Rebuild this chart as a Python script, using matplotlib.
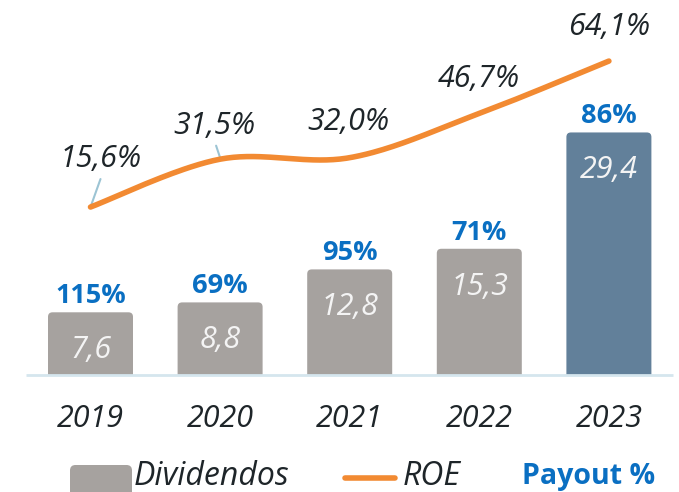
import numpy as np
import matplotlib
matplotlib.use("Agg")
from matplotlib import pyplot as plt
from matplotlib.patches import FancyBboxPatch
from matplotlib.lines import Line2D

# Data
years = ["2019", "2020", "2021", "2022", "2023"]
dividendos = [7.6, 8.8, 12.8, 15.3, 29.4]
roe = [15.6, 31.5, 32.0, 46.7, 64.1]
payout = ["115%", "69%", "95%", "71%", "86%"]

GRAY = "#a6a29f"
STEEL = "#62809a"
ORANGE = "#f28a32"
BLUE = "#0a6fc2"
DARK = "#1e2529"
LEADER = "#9cc4d4"
BASE = "#d5e6ee"

ITAL = dict(family=["Open Sans", "DejaVu Sans"], style="italic", color=DARK)
BOLD = dict(family=["Open Sans", "DejaVu Sans"], weight="bold", color=BLUE)

W, H = 679, 492
fig = plt.figure(figsize=(W / 100, H / 100), dpi=100)

# Main axes: baseline 117 px above the bottom edge
ax = fig.add_axes([0, 117 / H, 1, 375 / H])
ax.set_xlim(-90.5 / 129.6, (W - 90.5) / 129.6)
ax.set_ylim(0, 375 / 8.25)
ax.axis("off")

x = np.arange(len(years))
bw = 85 / 129.6
aspect = (1 / 8.25) / (1 / 129.6)

# Bars with slightly rounded tops
for i, v in enumerate(dividendos):
    col = STEEL if i == len(years) - 1 else GRAY
    p = FancyBboxPatch((x[i] - bw / 2, -2), bw, v + 2,
                       boxstyle="round,pad=0,rounding_size=0.035",
                       mutation_aspect=aspect, fc=col, ec="none", zorder=2)
    ax.add_patch(p)
    ax.annotate(f"{v:.1f}".replace(".", ","), xy=(x[i], v),
                xytext=(0, -46), textcoords="offset pixels",
                ha="center", va="baseline", fontsize=22,
                **{**ITAL, "color": "#f4f4f4"}, zorder=4)
    ax.annotate(payout[i], xy=(x[i], v), xytext=(0, 9),
                textcoords="offset pixels", ha="center", va="baseline",
                fontsize=19.5, **BOLD)
    ax.annotate(years[i], xy=(x[i], 0), xytext=(0, -52),
                textcoords="offset pixels", ha="center", va="baseline",
                fontsize=22, annotation_clip=False, **ITAL)

# Baseline
ax.plot([(26 - 90.5) / 129.6, (673 - 90.5) / 129.6], [0, 0], color=BASE,
        lw=2, zorder=3, clip_on=False, solid_capstyle="butt")

# ROE on a secondary scale, smoothed line
ax2 = ax.twinx()
ax2.set_ylim(-121 / 3.01, 254 / 3.01)
ax2.axis("off")

pts = np.column_stack([x, roe]).astype(float)
ext = np.vstack([pts[0], pts, pts[-1]])
curve = []
for k in range(1, len(ext) - 2):
    p0, p1, p2, p3 = ext[k - 1], ext[k], ext[k + 1], ext[k + 2]
    for t in np.linspace(0, 1, 40):
        curve.append(0.5 * ((2 * p1) + (-p0 + p2) * t
                            + (2 * p0 - 5 * p1 + 4 * p2 - p3) * t ** 2
                            + (-p0 + 3 * p1 - 3 * p2 + p3) * t ** 3))
curve = np.array(curve)
ax2.plot(curve[:, 0], curve[:, 1], color=ORANGE, lw=4,
         solid_capstyle="round", zorder=5)

roe_off = [(10.5, 40), (-6, 25), (-1, 28), (0, 26), (0, 26)]
for i, r in enumerate(roe):
    label = f"{r:.1f}%".replace(".", ",")
    ax2.annotate(label, xy=(x[i], r), xytext=roe_off[i],
                 textcoords="offset pixels", ha="center", va="baseline",
                 fontsize=22, **ITAL, annotation_clip=False)

# Leader lines for the two lower labels
ax2.annotate("", xy=(x[0], roe[0]), xytext=(10, 28), textcoords="offset pixels",
             arrowprops=dict(arrowstyle="-", color=LEADER, lw=1.5,
                             shrinkA=0, shrinkB=0))
ax2.annotate("", xy=(x[1], roe[1] + 0.5), xytext=(-4, 12),
             textcoords="offset pixels",
             arrowprops=dict(arrowstyle="-", color=LEADER, lw=1.5,
                             shrinkA=0, shrinkB=0))

# Legend drawn in pixel positions along the bottom
def fx(px):
    return px / W


def fy(py):
    return 1 - py / H


box = FancyBboxPatch((fx(70), fy(500)), fx(132) - fx(70), fy(465) - fy(500),
                     boxstyle="round,pad=0,rounding_size=0.008",
                     mutation_aspect=W / H, transform=fig.transFigure,
                     fc=GRAY, ec="none")
fig.patches.append(box)
fig.text(fx(134), fy(485), "Dividendos", fontsize=23, va="baseline", **ITAL)
fig.lines.append(Line2D([fx(345), fx(395)], [fy(478), fy(478)],
                        transform=fig.transFigure, color=ORANGE, lw=4,
                        solid_capstyle="round"))
fig.text(fx(403), fy(485), "ROE", fontsize=23, va="baseline", **ITAL)
fig.text(fx(522), fy(484), "Payout %", fontsize=20.5, va="baseline", **BOLD)

fig.savefig("out.png", dpi=100)
